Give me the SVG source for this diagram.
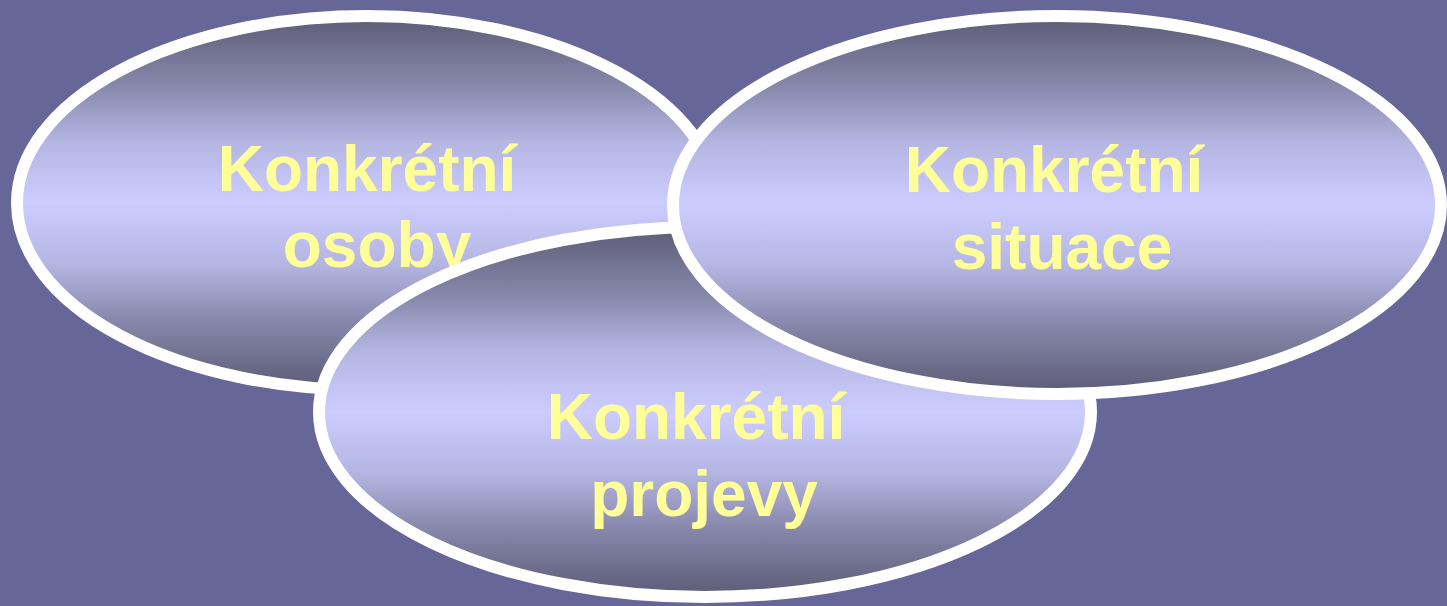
<svg xmlns="http://www.w3.org/2000/svg" width="1447" height="606" viewBox="0 0 1447 606">
<defs>
<linearGradient id="g" x1="0" y1="0" x2="0" y2="1">
<stop offset="0" stop-color="#5c5c76"/>
<stop offset="0.18" stop-color="#8686aa"/>
<stop offset="0.34" stop-color="#b6b6e4"/>
<stop offset="0.5" stop-color="#ccccff"/>
<stop offset="0.66" stop-color="#b6b6e4"/>
<stop offset="0.82" stop-color="#8686aa"/>
<stop offset="1" stop-color="#5c5c76"/>
</linearGradient>
</defs>
<style>
.e{fill:url(#g);stroke:#ffffff;stroke-width:12}
.t{font-family:"Liberation Sans",Arial,sans-serif;font-weight:bold;font-size:64px;fill:#ffff99;text-anchor:middle}
</style>
<rect width="1447" height="606" fill="#666699"/>
<g id="osoby">
<ellipse class="e" cx="367" cy="203" rx="350" ry="187"/>
<text class="t" x="367" y="191">Konkrétní</text>
<text class="t" x="377" y="267">osoby</text>
</g>
<g id="projevy">
<ellipse class="e" cx="705" cy="412" rx="386" ry="185"/>
<text class="t" x="696" y="439">Konkrétní</text>
<text class="t" x="704" y="516">projevy</text>
</g>
<g id="situace">
<ellipse class="e" cx="1057" cy="205" rx="384" ry="189"/>
<text class="t" x="1054" y="192">Konkrétní</text>
<text class="t" x="1062" y="269">situace</text>
</g>
<g id="connectors"/>
</svg>
